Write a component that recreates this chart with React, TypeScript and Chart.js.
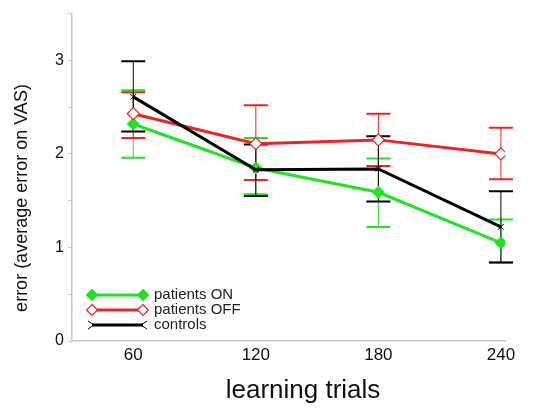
import React, { useEffect, useRef } from "react";
import { Chart, registerables } from "chart.js";

Chart.register(...registerables);

const trials = [60, 120, 180, 240];
const onMean = [2.32, 1.85, 1.59, 1.05];
const onLow = [1.96, 1.57, 1.22, 0.84];
const onHigh = [2.68, 2.17, 1.95, 1.3];
const offMean = [2.43, 2.11, 2.15, 2.0];
const offLow = [2.17, 1.72, 1.87, 1.73];
const offHigh = [2.66, 2.52, 2.43, 2.28];
const ctlMean = [2.61, 1.83, 1.84, 1.22];
const ctlLow = [2.24, 1.55, 1.49, 0.84];
const ctlHigh = [2.99, 2.1, 2.19, 1.6];
const yTicks = [0, 1, 2, 3];
const seriesNames = ["patients ON", "patients OFF", "controls"];
const xTitle = "learning trials";
const yTitle = "error (average error on VAS)";

const GREEN = "#1fe61f";
const RED = "#ee2424";
const BLACK = "#000000";
const FONT = "'Liberation Sans', Arial, sans-serif";

const errorBars = {
  id: "errorBars",
  beforeDatasetsDraw(chart: any) {
    const ctx = chart.ctx;
    const xs = chart.scales.x;
    const ys = chart.scales.y;
    const sets = [
      { lo: onLow, hi: onHigh, c: GREEN },
      { lo: offLow, hi: offHigh, c: RED },
      { lo: ctlLow, hi: ctlHigh, c: BLACK },
    ];
    ctx.save();
    sets.forEach((s) => {
      trials.forEach((t, i) => {
        const x = xs.getPixelForValue(t);
        const y1 = ys.getPixelForValue(s.lo[i]);
        const y2 = ys.getPixelForValue(s.hi[i]);
        ctx.strokeStyle = s.c;
        ctx.lineWidth = 1;
        ctx.beginPath();
        ctx.moveTo(x, y1);
        ctx.lineTo(x, y2);
        ctx.stroke();
        ctx.lineWidth = 2;
        ctx.beginPath();
        ctx.moveTo(x - 12, y1);
        ctx.lineTo(x + 12, y1);
        ctx.moveTo(x - 12, y2);
        ctx.lineTo(x + 12, y2);
        ctx.stroke();
      });
    });
    ctx.restore();
  },
};

function diamond(ctx: any, x: number, y: number, r: number, fill: string, stroke: string) {
  ctx.beginPath();
  ctx.moveTo(x, y - r);
  ctx.lineTo(x + r, y);
  ctx.lineTo(x, y + r);
  ctx.lineTo(x - r, y);
  ctx.closePath();
  ctx.fillStyle = fill;
  ctx.fill();
  ctx.strokeStyle = stroke;
  ctx.lineWidth = 1.2;
  ctx.stroke();
}

const customLegend = {
  id: "customLegend",
  afterDraw(chart: any) {
    const ctx = chart.ctx;
    const ys = chart.scales.y;
    const left = ys.right + 20;
    const right = left + 51;
    const rows = [295, 310, 325];
    ctx.save();
    const colors = [GREEN, RED, BLACK];
    rows.forEach((y, i) => {
      ctx.strokeStyle = colors[i];
      ctx.lineWidth = 3;
      ctx.beginPath();
      ctx.moveTo(left, y);
      ctx.lineTo(right, y);
      ctx.stroke();
      if (i === 0) {
        diamond(ctx, left, y, 5.5, GREEN, GREEN);
        diamond(ctx, right, y, 5.5, GREEN, GREEN);
      } else if (i === 1) {
        diamond(ctx, left, y, 5.5, "#ffffff", RED);
        diamond(ctx, right, y, 5.5, "#ffffff", RED);
      } else {
        ctx.strokeStyle = BLACK;
        ctx.lineWidth = 1;
        ctx.beginPath();
        ctx.moveTo(left - 4, y - 4);
        ctx.lineTo(left + 2, y);
        ctx.lineTo(left - 4, y + 4);
        ctx.moveTo(right + 4, y - 4);
        ctx.lineTo(right - 2, y);
        ctx.lineTo(right + 4, y + 4);
        ctx.stroke();
      }
      ctx.fillStyle = "#222222";
      ctx.font = `15px ${FONT}`;
      ctx.textBaseline = "middle";
      ctx.textAlign = "left";
      ctx.fillText(seriesNames[i], right + 11, y);
    });
    // x-axis title
    ctx.font = `26px ${FONT}`;
    ctx.textAlign = "center";
    ctx.textBaseline = "middle";
    ctx.fillStyle = "#111111";
    ctx.fillText(xTitle, 303, 391);
    // y-axis title
    ctx.translate(22, 198);
    ctx.rotate(-Math.PI / 2);
    ctx.font = `18px ${FONT}`;
    ctx.fillText(yTitle, 0, 0);
    ctx.restore();
  },
};

export default function App() {
  const ref = useRef<HTMLCanvasElement | null>(null);
  useEffect(() => {
    if (!ref.current) return;
    const mk = (vals: number[]) => trials.map((t, i) => ({ x: t, y: vals[i] }));
    const chart = new Chart(ref.current, {
      type: "line",
      data: {
        datasets: [
          {
            label: seriesNames[0],
            data: mk(onMean),
            borderColor: GREEN,
            backgroundColor: GREEN,
            borderWidth: 3,
            pointStyle: "rectRot",
            pointRadius: 6,
            pointBorderWidth: 1,
            pointBackgroundColor: GREEN,
            pointBorderColor: GREEN,
            order: 3,
          },
          {
            label: seriesNames[1],
            data: mk(offMean),
            borderColor: RED,
            backgroundColor: "#ffffff",
            borderWidth: 3,
            pointStyle: "rectRot",
            pointRadius: 6,
            pointBorderWidth: 1.2,
            pointBackgroundColor: "#ffffff",
            pointBorderColor: RED,
            order: 2,
          },
          {
            label: seriesNames[2],
            data: mk(ctlMean),
            borderColor: BLACK,
            backgroundColor: BLACK,
            borderWidth: 3,
            pointStyle: "crossRot",
            pointRadius: 4,
            pointBorderWidth: 1,
            pointBorderColor: BLACK,
            order: 1,
          },
        ],
      },
      options: {
        responsive: false,
        animation: false,
        devicePixelRatio: 1,
        layout: { padding: { top: 12, right: 40, left: 0, bottom: 0 } },
        plugins: {
          legend: { display: false },
          tooltip: { enabled: false },
        },
        scales: {
          x: {
            type: "linear",
            min: 30,
            max: 242,
            afterBuildTicks: (s: any) => {
              s.ticks = trials.map((v) => ({ value: v }));
            },
            afterFit: (s: any) => {
              s.height = 67;
            },
            ticks: {
              color: "#111111",
              font: { family: FONT, size: 17 },
              padding: 4,
              maxRotation: 0,
            },
            grid: { drawOnChartArea: false, drawTicks: false },
            border: { color: "#c8c8c8", width: 1.5 },
          },
          y: {
            type: "linear",
            min: 0,
            max: 3.5,
            afterBuildTicks: (s: any) => {
              const out: any[] = [];
              for (let v = 0; v <= 3.5001; v += 0.5) out.push({ value: v });
              s.ticks = out;
            },
            afterFit: (s: any) => {
              s.width = 72;
            },
            ticks: {
              color: "#111111",
              font: { family: FONT, size: 16 },
              padding: 4,
              callback: (v: any) => (yTicks.includes(Number(v)) ? String(v) : ""),
            },
            grid: {
              drawOnChartArea: false,
              drawTicks: true,
              tickLength: 4,
              color: "#c8c8c8",
            },
            border: { color: "#c8c8c8", width: 1.5 },
          },
        },
      },
      plugins: [errorBars, customLegend],
    } as any);
    return () => chart.destroy();
  }, []);
  return (
    <div style={{ position: "fixed", left: 0, top: 0, width: 545, height: 408, background: "#fff" }}>
      <canvas ref={ref} width={545} height={408} style={{ width: 545, height: 408 }} />
    </div>
  );
}
